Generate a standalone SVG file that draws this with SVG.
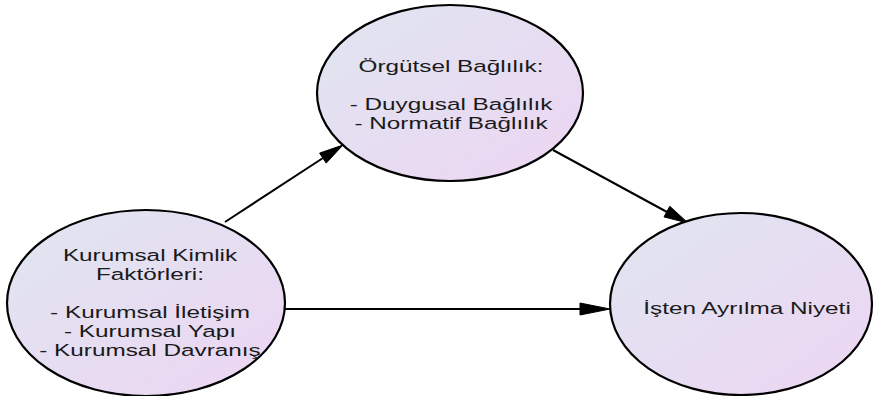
<svg xmlns="http://www.w3.org/2000/svg" width="876" height="396" viewBox="0 0 876 396">
<defs>
<linearGradient id="fillGrad" x1="0" y1="0" x2="1" y2="1">
<stop offset="0" stop-color="#dfe6f0"/>
<stop offset="1" stop-color="#edd5f3"/>
</linearGradient>
<style>
.node{fill:url(#fillGrad);stroke:#000;stroke-width:2.2}
.lbl{font-family:"Liberation Sans",Arial,sans-serif;font-size:17px;fill:#1a1a1a;text-anchor:middle}
.edge{stroke:#000;stroke-width:2;fill:none}
.head{fill:#000;stroke:#000;stroke-width:1}
</style>
</defs>
<rect width="876" height="396" fill="#fff"/>
<g id="connectors">
<line class="edge" x1="225" y1="222" x2="323" y2="158"/>
<polygon class="head" points="343,145 326.2,163.1 319.6,153.1"/>
<line class="edge" x1="553" y1="150" x2="667" y2="212"/>
<polygon class="head" points="688,223 664,216.9 669.8,206.3"/>
<line class="edge" x1="285" y1="309" x2="581" y2="309"/>
<polygon class="head" points="610,309 580,303 580,315"/>
</g>
<g id="node-orgutsel">
<ellipse class="node" cx="450" cy="93" rx="133" ry="88"/>
<g transform="translate(451,0) scale(1.43 1)">
<text class="lbl" x="0" y="72">Örgütsel Bağlılık:</text>
<text class="lbl" x="0" y="110">- Duygusal Bağlılık</text>
<text class="lbl" x="0" y="129">- Normatif Bağlılık</text>
</g>
</g>
<g id="node-kurumsal">
<ellipse class="node" cx="146" cy="303" rx="139" ry="93"/>
<g transform="translate(150,0) scale(1.43 1)">
<text class="lbl" x="0" y="261">Kurumsal Kimlik</text>
<text class="lbl" x="0" y="280">Faktörleri:</text>
<text class="lbl" x="0" y="318">- Kurumsal İletişim</text>
<text class="lbl" x="0" y="337">- Kurumsal Yapı</text>
<text class="lbl" x="0" y="356">- Kurumsal Davranış</text>
</g>
</g>
<g id="node-isten">
<ellipse class="node" cx="741" cy="304" rx="131" ry="91"/>
<g transform="translate(747,0) scale(1.43 1)">
<text class="lbl" x="0" y="314">İşten Ayrılma Niyeti</text>
</g>
</g>
</svg>
